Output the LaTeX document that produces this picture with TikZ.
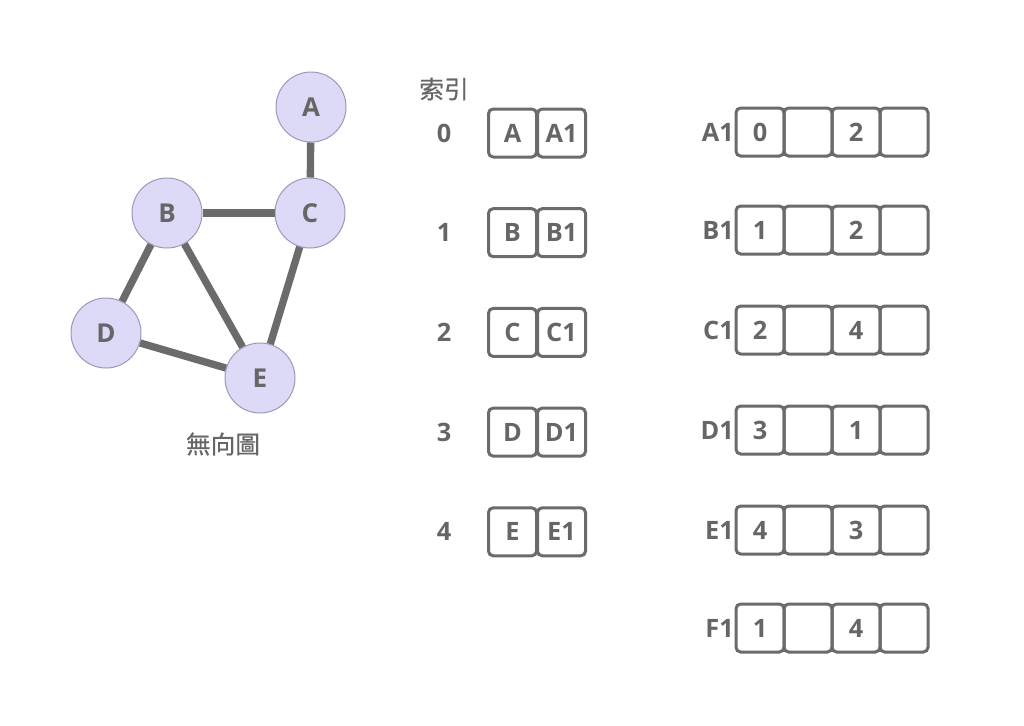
\documentclass[tikz,border=0pt]{standalone}
\usepackage{fontspec}
\setmainfont{Open Sans}
\newfontfamily\cjk[FakeBold=0.6]{Noto Sans CJK TC}
\definecolor{edgec}{HTML}{6B6B6B}
\definecolor{txtc}{HTML}{666666}
\definecolor{vfill}{HTML}{DDDAF8}
\definecolor{vdraw}{HTML}{9D98B8}
\begin{document}
\begin{tikzpicture}[x=0.75pt,y=-0.75pt,
  vert/.style={circle,fill=vfill,draw=vdraw,line width=0.75pt,minimum size=52.5pt,inner sep=0pt,
    text=txtc,font=\fontsize{19.5}{19.5}\selectfont\bfseries},
  edge/.style={draw=edgec,line width=5.5pt},
  cell/.style={rectangle,rounded corners=3.5pt,draw=edgec,line width=2.25pt,minimum width=36pt,minimum height=36pt,inner sep=0pt,
    text=txtc,font=\fontsize{19}{19}\selectfont\bfseries},
  lbl/.style={text=txtc,font=\fontsize{19}{19}\selectfont\bfseries,inner sep=0pt},
  cjklbl/.style={text=txtc,font=\cjk\fontsize{18.5}{18.5}\selectfont,inner sep=0pt}]
\useasboundingbox[fill=white] (0,0) rectangle (1024,725);
% graph
\node[vert] (A) at (311,107) {A};
\node[vert] (C) at (310,213) {C};
\node[vert] (B) at (167,213) {B};
\node[vert] (D) at (106,333) {D};
\node[vert] (E) at (260,378) {E};
\path[edge] (A) -- (C);
\path[edge] (B) -- (C);
\path[edge] (B) -- (D);
\path[edge] (B) -- (E);
\path[edge] (C) -- (E);
\path[edge] (D) -- (E);
\node[cjklbl] (cap) at (223,444) {無向圖};
% index table
\node[cjklbl] (idx) at (444,89) {索引};
\foreach \i/\v [count=\k from 0] in {0/A,1/B,2/C,3/D,4/E}{
  \pgfmathsetmacro{\yy}{133+99.7*\k}
  \node[lbl] (i\i) at (444,\yy) {\i};
  \node[cell] (v\i) at (512.5,\yy) {\v};
  \node[cell] (p\i) at (561.5,\yy) {\v1};
}
% adjacency lists
\foreach \n/\yy/\a/\b in {A/132/0/2,B/230/1/2,C/330/2/4,D/430/3/1,E/530/4/3,F/628/1/4}{
  \node[lbl,anchor=east] (l\n) at (734,\yy) {\n1};
  \node[cell] (c\n1) at (760,\yy) {\a};
  \node[cell] (c\n2) at (808,\yy) {};
  \node[cell] (c\n3) at (856,\yy) {\b};
  \node[cell] (c\n4) at (904,\yy) {};
}
\end{tikzpicture}
\end{document}
